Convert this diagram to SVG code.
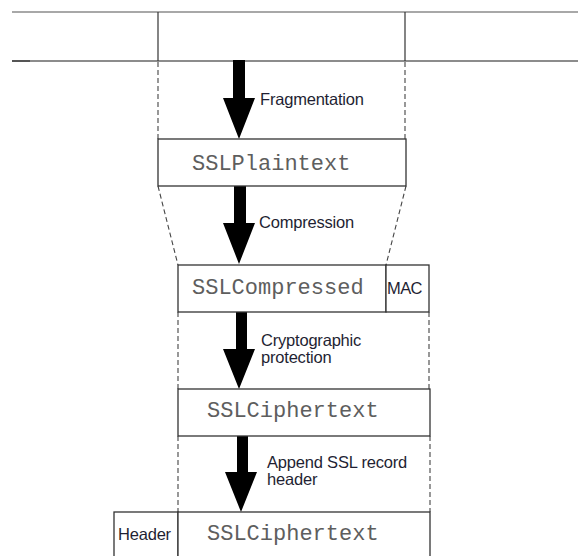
<svg xmlns="http://www.w3.org/2000/svg" width="578" height="556" viewBox="0 0 578 556">
  <style>
    .box { fill: #ffffff; stroke: #333333; stroke-width: 1.3; }
    .rule { stroke: #a8a8a8; stroke-width: 2.2; fill: none; }
    .vline { stroke: #333333; stroke-width: 1.2; fill: none; }
    .dash { stroke: #444444; stroke-width: 1.1; stroke-dasharray: 5 3; fill: none; }
    .mono { font-family: "Liberation Mono", "Courier New", monospace; font-size: 22px; fill: #5e5e5e; }
    .lbl { font-family: "Liberation Sans", Arial, sans-serif; font-size: 16.5px; fill: #1f1f33; letter-spacing: -0.2px; }
    .arrow { fill: #000000; }
  </style>

  <!-- upper data stream -->
  <g id="stream">
    <line class="rule" x1="12" y1="12" x2="578" y2="12"/>
    <line class="rule" x1="12" y1="61" x2="578" y2="61" style="stroke:#8c8c8c"/>
    <line x1="12" y1="61" x2="30" y2="61" stroke="#555555" stroke-width="2"/>
    <line class="vline" x1="158" y1="12" x2="158" y2="61"/>
    <line class="vline" x1="405" y1="12" x2="405" y2="61"/>
  </g>

  <!-- guide lines between stages -->
  <g id="connectors">
    <line class="dash" x1="158" y1="62" x2="158" y2="139"/>
    <line class="dash" x1="405" y1="62" x2="405" y2="139"/>
    <line class="dash" x1="158" y1="186" x2="178" y2="265"/>
    <line class="dash" x1="406" y1="186" x2="386" y2="265"/>
    <line class="dash" x1="178" y1="312" x2="178" y2="389"/>
    <line class="dash" x1="429" y1="312" x2="429" y2="389"/>
    <line class="dash" x1="178" y1="436" x2="178" y2="512"/>
    <line class="dash" x1="430" y1="436" x2="430" y2="512"/>

    <polygon class="arrow" points="233,60 245,60 245,98 255,98 239,139 223,98 233,98"/>
    <polygon class="arrow" points="234,186 246,186 246,223 255,223 239,264 223,223 234,223"/>
    <polygon class="arrow" points="236,312 247,312 247,349 255,349 239,389 223,349 236,349"/>
    <polygon class="arrow" points="237,436 248,436 248,472 257,472 241,512 225,472 237,472"/>

    <text class="lbl" x="260" y="105">Fragmentation</text>
    <text class="lbl" x="259" y="228">Compression</text>
    <text class="lbl" x="261" y="346">Cryptographic</text>
    <text class="lbl" x="261" y="363">protection</text>
    <text class="lbl" x="267" y="468">Append SSL record</text>
    <text class="lbl" x="267" y="485">header</text>
  </g>

  <g id="plaintext">
    <rect class="box" x="158" y="139" width="248" height="47"/>
    <text class="mono" x="192" y="170">SSLPlaintext</text>
  </g>

  <g id="compressed">
    <rect class="box" x="178" y="265" width="208" height="47"/>
    <text class="mono" x="192" y="294">SSLCompressed</text>
  </g>

  <g id="mac">
    <rect class="box" x="386" y="265" width="43" height="47"/>
    <text class="lbl" x="387" y="294" style="letter-spacing:-0.6px">MAC</text>
  </g>

  <g id="ciphertext">
    <rect class="box" x="178" y="389" width="252" height="47"/>
    <text class="mono" x="207" y="417">SSLCiphertext</text>
  </g>

  <g id="header">
    <rect class="box" x="114" y="512" width="64" height="50"/>
    <text class="lbl" x="118" y="540">Header</text>
  </g>

  <g id="record">
    <rect class="box" x="178" y="512" width="252" height="50"/>
    <text class="mono" x="207" y="540">SSLCiphertext</text>
  </g>
</svg>
